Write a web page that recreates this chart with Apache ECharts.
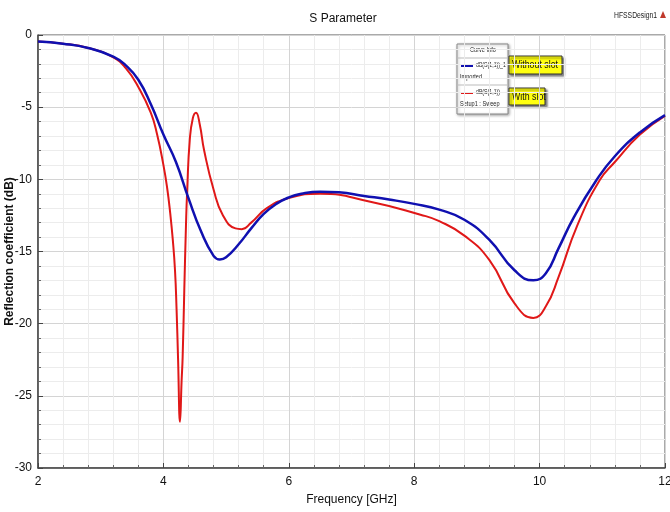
<!DOCTYPE html>
<html>
<head>
<meta charset="utf-8">
<script src="https://cdn.jsdelivr.net/npm/echarts@6/dist/echarts.min.js"></script>
<style>
  html, body { margin: 0; padding: 0; background: #fff; }
  #main { width: 670px; height: 512px; }
</style>
</head>
<body>
<div id="main"></div>
<script>
// frequency in GHz, S11 in dB
const freqNoSlot = [2.0, 2.4, 2.8, 3.2, 3.4, 3.6, 3.8, 4.0, 4.2, 4.4, 4.6, 4.8, 4.9, 5.0, 5.2, 5.4, 5.6, 5.8, 6.0, 6.2, 6.5, 6.8, 7.2, 7.6, 8.0, 8.4, 8.8, 9.2, 9.6, 9.9, 10.1, 10.3, 10.55, 10.9, 11.2, 11.6, 12.0];
const dbNoSlot = [-0.45, -0.6, -0.9, -1.5, -2.1, -3.1, -4.8, -6.9, -8.8, -11.3, -13.6, -15.3, -15.55, -15.4, -14.5, -13.4, -12.4, -11.7, -11.25, -11.0, -10.86, -10.9, -11.15, -11.4, -11.7, -12.1, -12.8, -14.2, -16.3, -17.0, -16.5, -14.8, -12.6, -10.1, -8.4, -6.75, -5.55];

const freqSlot = [2.0, 2.4, 2.8, 3.2, 3.4, 3.6, 3.8, 3.9, 4.0, 4.06, 4.11, 4.15, 4.185, 4.21, 4.233, 4.265, 4.29, 4.307, 4.333, 4.36, 4.38, 4.42, 4.47, 4.52, 4.58, 4.65, 4.8, 4.95, 5.15, 5.25, 5.4, 5.65, 6.0, 6.5, 7.3, 8.1, 8.4, 8.8, 9.2, 9.6, 9.9, 10.1, 10.3, 10.6, 10.96, 11.2, 11.6, 12.0];
const dbSlot = [-0.45, -0.6, -0.9, -1.55, -2.3, -3.6, -5.4, -6.9, -9.0, -10.6, -12.4, -14.2, -16.3, -19.0, -22.3, -26.8, -24.0, -22.3, -17.7, -13.2, -10.7, -7.3, -5.75, -5.38, -6.2, -8.0, -10.7, -12.5, -13.4, -13.45, -13.0, -12.0, -11.3, -11.0, -11.55, -12.45, -12.9, -13.9, -15.6, -18.6, -19.6, -18.8, -16.8, -13.2, -10.05, -8.8, -6.9, -5.6];

const xTicks = [2, 4, 6, 8, 10, 12];
const yTicks = [0, -5, -10, -15, -20, -25, -30];

const font = "'Liberation Sans', Arial, sans-serif";

function pairs(xs, ys) {
    return xs.map((x, i) => [x, ys[i]]);
}

// squeezed text, to get closer to the narrow font of the original
function label(x, y, text, size, color) {
    return {
        type: 'text', x: x, y: y, scaleX: 0.8,
        style: { text: text, font: size + 'px ' + font, fill: color || '#222' }
    };
}

const chart = echarts.init(document.getElementById('main'));
chart.setOption({
    animation: false,
    title: {
        text: 'S Parameter',
        left: 338,
        textAlign: 'center',
        top: 8,
        textStyle: { fontFamily: font, fontSize: 12, fontWeight: 'normal', color: '#111' }
    },
    grid: {
        left: 38,
        right: 5,
        top: 35,
        bottom: 44,
        outerBoundsMode: 'none',
        containLabel: false,
        show: true,
        borderColor: '#555',
        borderWidth: 1
    },
    xAxis: {
        type: 'value',
        min: xTicks[0],
        max: xTicks[xTicks.length - 1],
        interval: 2,
        name: 'Frequency [GHz]',
        nameLocation: 'middle',
        nameGap: 26,
        nameMoveOverlap: false,
        nameTextStyle: { fontFamily: font, fontSize: 12, color: '#111' },
        axisLine: { onZero: false, lineStyle: { color: '#444', width: 1.5 } },
        axisTick: { inside: true, length: 5, lineStyle: { color: '#444' } },
        minorTick: { show: true, splitNumber: 5, length: 3, lineStyle: { color: '#666' } },
        axisLabel: { fontFamily: font, fontSize: 12, color: '#111', margin: 8 },
        splitLine: { show: true, lineStyle: { color: '#d4d4d4', width: 1 } },
        minorSplitLine: { show: true, lineStyle: { color: '#ececec', width: 1 } }
    },
    yAxis: {
        type: 'value',
        min: yTicks[yTicks.length - 1],
        max: yTicks[0],
        interval: 5,
        name: 'Reflection coefficient (dB)',
        nameLocation: 'middle',
        nameGap: 22,
        nameMoveOverlap: false,
        nameTextStyle: { fontFamily: font, fontSize: 12, fontWeight: 'bold', color: '#111' },
        axisLine: { show: true, lineStyle: { color: '#444', width: 1.5 } },
        axisTick: { show: true, inside: true, length: 5, lineStyle: { color: '#444' } },
        minorTick: { show: true, splitNumber: 5, length: 3, lineStyle: { color: '#666' } },
        axisLabel: { fontFamily: font, fontSize: 12, color: '#111', margin: 6 },
        splitLine: { show: true, lineStyle: { color: '#d4d4d4', width: 1 } },
        minorSplitLine: { show: true, lineStyle: { color: '#ececec', width: 1 } }
    },
    series: [
        {
            name: 'Without slot',
            type: 'line',
            data: pairs(freqNoSlot, dbNoSlot),
            showSymbol: false,
            smooth: 0.5,
            lineStyle: { color: '#1010b0', width: 2.5 },
            z: 3
        },
        {
            name: 'With slot',
            type: 'line',
            data: pairs(freqSlot, dbSlot),
            showSymbol: false,
            smooth: 0.5,
            lineStyle: { color: '#e01818', width: 2 },
            z: 2
        }
    ],
    graphic: [
        label(614, 11, 'HFSSDesign1', 8.5),
        {
            type: 'polygon', x: 660, y: 11,
            shape: { points: [[3, 0], [6, 7], [0, 7]] },
            style: { fill: '#c0392b' }
        },
        // curve info box
        {
            type: 'rect', x: 457, y: 44,
            shape: { width: 51, height: 70 },
            style: { fill: '#fff', stroke: '#888', lineWidth: 1, shadowBlur: 3, shadowColor: 'rgba(0,0,0,0.35)', shadowOffsetX: 1, shadowOffsetY: 1 }
        },
        label(470, 47, 'Curve Info', 7),
        { type: 'line', shape: { x1: 457, y1: 58, x2: 508, y2: 58 }, style: { stroke: '#bbb', lineWidth: 1 } },
        { type: 'line', shape: { x1: 461, y1: 66, x2: 473, y2: 66 }, style: { stroke: '#1010b0', lineWidth: 2 } },
        label(476, 62, 'dB(S(1,1))_1', 6.5),
        label(460, 74, 'Imported', 7),
        { type: 'line', shape: { x1: 457, y1: 85, x2: 508, y2: 85 }, style: { stroke: '#bbb', lineWidth: 1 } },
        { type: 'line', shape: { x1: 461, y1: 93, x2: 473, y2: 93 }, style: { stroke: '#e01818', lineWidth: 2 } },
        label(476, 89, 'dB(S(1,1))', 6.5),
        label(460, 101, 'Setup1 : Sweep', 7),
        // yellow tags
        {
            type: 'rect', x: 509, y: 56,
            shape: { width: 53, height: 18 },
            style: { fill: '#ffff10', stroke: '#333', lineWidth: 1, shadowBlur: 2, shadowColor: 'rgba(0,0,0,0.5)', shadowOffsetX: 2, shadowOffsetY: 2 }
        },
        label(512, 59, 'Without slot', 11, '#111'),
        {
            type: 'rect', x: 509, y: 88,
            shape: { width: 36, height: 17 },
            style: { fill: '#ffff10', stroke: '#333', lineWidth: 1, shadowBlur: 2, shadowColor: 'rgba(0,0,0,0.5)', shadowOffsetX: 2, shadowOffsetY: 2 }
        },
        label(512, 91, 'With slot', 11, '#111')
    ]
});
</script>
</body>
</html>
